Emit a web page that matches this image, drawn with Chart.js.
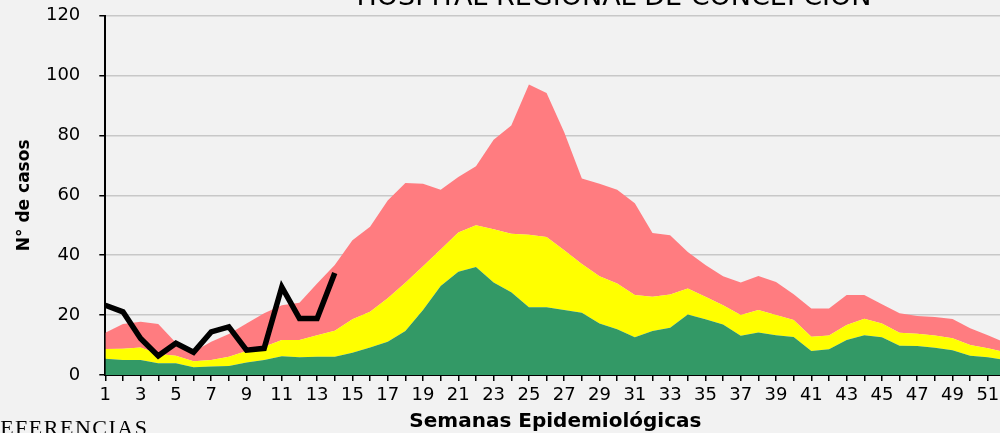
<!DOCTYPE html>
<html>
<head>
<meta charset="utf-8">
<title>Corredor endémico - Hospital Regional de Concepción</title>
<script src="https://cdn.jsdelivr.net/npm/chart.js@4.4.1/dist/chart.umd.min.js"></script>
<style>
	html, body {
		margin: 0;
		padding: 0;
		width: 1000px;
		height: 433px;
		overflow: hidden;
		background: #f2f2f2;
	}
	#marco {
		position: absolute;
		left: 0;
		top: -20px;
		width: 1228px;
		height: 455px;
	}
	#referencias {
		position: absolute;
		left: -16px;
		top: 417px;
		font-family: "Liberation Serif", serif;
		font-size: 22px;
		line-height: 1;
		letter-spacing: 1.5px;
		color: #000;
		white-space: nowrap;
	}
</style>
</head>
<body>
<div id="marco"><canvas id="corredor"></canvas></div>
<div id="referencias">REFERENCIAS</div>

<script>
// Corredor endémico por semana epidemiológica

let semanas = [];
for (let i = 1; i <= 52; i++) {
	semanas.push(String(i));
}

// limites superiores de cada zona (acumulados)
let zonaExito = [
	5.4, 5.0, 5.0, 3.9, 3.9, 2.6, 2.8, 3.0, 4.2, 5.0,
	6.3, 5.9, 6.1, 6.1, 7.4, 9.2, 11.1, 14.7, 21.7, 29.7,
	34.5, 36.1, 30.9, 27.6, 22.6, 22.6, 21.7, 20.8, 17.2, 15.3,
	12.6, 14.7, 15.8, 20.2, 18.6, 16.9, 13.1, 14.2, 13.3, 12.7,
	8.0, 8.6, 11.7, 13.3, 12.6, 9.8, 9.7, 9.1, 8.3, 6.4,
	5.9, 5.0
];
let zonaSeguridad = [
	8.7, 8.8, 9.2, 7.0, 6.4, 4.6, 5.0, 6.1, 8.0, 9.4,
	11.7, 11.7, 13.3, 14.8, 18.6, 21.1, 25.6, 30.8, 36.3, 41.9,
	47.6, 50.0, 48.7, 47.2, 46.8, 46.1, 41.7, 37.1, 33.0, 30.6,
	26.7, 26.1, 26.9, 28.9, 26.1, 23.3, 20.0, 21.7, 20.0, 18.4,
	12.8, 13.2, 16.7, 18.8, 17.2, 14.1, 13.8, 13.2, 12.3, 10.0,
	8.9, 7.6
];
let zonaAlerta = [
	14.1, 17.0, 17.8, 17.0, 10.8, 7.8, 11.1, 13.7, 17.2, 20.6,
	23.3, 24.1, 30.6, 36.7, 45.0, 49.5, 58.3, 64.1, 63.9, 61.9,
	66.1, 69.7, 78.6, 83.3, 97.0, 94.2, 81.1, 65.6, 63.9, 61.9,
	57.4, 47.4, 46.7, 41.1, 36.7, 33.0, 30.9, 33.1, 31.1, 27.0,
	22.2, 22.2, 26.7, 26.7, 23.6, 20.6, 19.7, 19.4, 18.7, 15.6,
	13.3, 10.8
];
// casos del año en curso (hasta semana 14)
let casosActuales = [
	23.3, 21.1, 12.2, 6.4, 10.6, 7.6, 14.4, 16.1, 8.3, 8.9,
	29.4, 18.9, 18.9, 34.1
];

let ejeY = [0, 120, 20];

let $element_corredor = document.getElementById("corredor");
let ctx_corredor = $element_corredor.getContext("2d");

let data_corredor = {
	labels: semanas,
	datasets: [{
		label: 'Zona de éxito',
		data: zonaExito,
		fill: 'origin',
		backgroundColor: '#339966',
		borderColor: 'transparent',
		borderWidth: 0,
		pointRadius: 0,
		tension: 0,
		order: 1
	},
	{
		label: 'Zona de seguridad',
		data: zonaSeguridad,
		fill: '-1',
		backgroundColor: '#ffff00',
		borderColor: 'transparent',
		borderWidth: 0,
		pointRadius: 0,
		tension: 0,
		order: 1
	},
	{
		label: 'Zona de alerta',
		data: zonaAlerta,
		fill: '-1',
		backgroundColor: '#ff7c80',
		borderColor: 'transparent',
		borderWidth: 0,
		pointRadius: 0,
		tension: 0,
		order: 1
	},
	{
		label: 'Casos',
		data: casosActuales,
		fill: false,
		borderColor: '#000000',
		borderWidth: 5.5,
		borderJoinStyle: 'miter',
		borderCapStyle: 'butt',
		pointRadius: 0,
		tension: 0,
		order: 0
	}]
};

let corredor = new Chart(ctx_corredor, {
	type: 'line',
	data: data_corredor,
	options: {
		responsive: true,
		maintainAspectRatio: false,
		animation: false,
		layout: {
			padding: 0
		},
		plugins: {
			legend: { display: false },
			tooltip: { enabled: false },
			title: {
				display: true,
				text: 'HOSPITAL REGIONAL DE CONCEPCION',
				color: '#000000',
				font: { family: 'DejaVu Sans', size: 27, weight: 'normal' },
				padding: { top: 2, bottom: 1.3 }
			}
		},
		scales: {
			x: {
				type: 'category',
				offset: false,
				grid: {
					display: true,
					drawOnChartArea: false,
					drawTicks: true,
					tickLength: 6,
					tickColor: '#000000',
					lineWidth: 1.5
				},
				border: { display: true, color: '#000000', width: 2 },
				ticks: {
					autoSkip: false,
					maxRotation: 0,
					minRotation: 0,
					padding: 4,
					color: '#000000',
					font: { family: 'DejaVu Sans', size: 18 },
					callback: function(value) {
						let etiqueta = this.getLabelForValue(value);
						return (Number(etiqueta) % 2 === 1) ? etiqueta : '';
					}
				},
				title: {
					display: true,
					text: 'Semanas Epidemiológicas',
					color: '#000000',
					font: { family: 'DejaVu Sans', size: 20, weight: 'bold' },
					padding: { top: 0, bottom: 1.5 }
				},
				afterFit: function(scale) {
					scale.height = 60;
				}
			},
			y: {
				min: ejeY[0],
				max: ejeY[1],
				grid: {
					color: '#c8c8c8',
					lineWidth: 1.5,
					drawTicks: true,
					tickLength: 6,
					tickColor: '#000000'
				},
				border: { display: true, color: '#000000', width: 2 },
				ticks: {
					stepSize: ejeY[2],
					padding: 19,
					color: '#000000',
					font: { family: 'DejaVu Sans', size: 18 }
				},
				title: {
					display: true,
					text: 'N° de casos',
					color: '#000000',
					font: { family: 'DejaVu Sans', size: 17, weight: 'bold' },
					padding: { top: 14, bottom: 0 }
				},
				afterFit: function(scale) {
					scale.width = 105.3;
				}
			},
			// espacio a la derecha del gráfico (fuera de la vista)
			margen: {
				type: 'linear',
				axis: 'y',
				position: 'right',
				display: true,
				grid: { display: false },
				border: { display: false },
				ticks: { display: false },
				afterFit: function(scale) {
					scale.width = 222.5;
				}
			}
		}
	}
});
</script>
</body>
</html>
